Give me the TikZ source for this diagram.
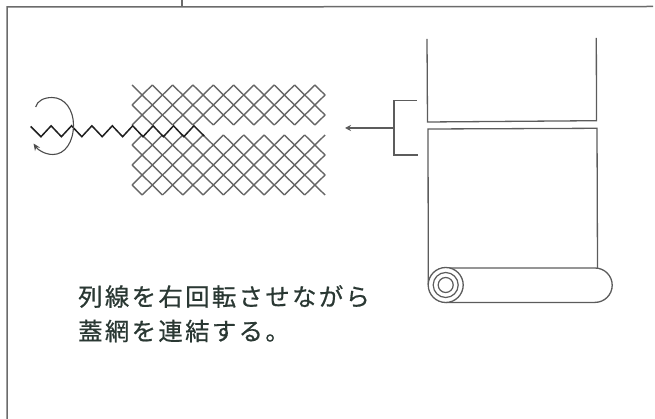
\documentclass[tikz,border=0pt]{standalone}
\usepackage{fontspec}
\usetikzlibrary{arrows.meta}
\newfontfamily\jpfont[LetterSpace=9.6,FakeBold=0.6]{Noto Sans CJK JP}
\definecolor{framegray}{gray}{0.42}
\definecolor{linegray}{gray}{0.36}
\definecolor{meshgray}{gray}{0.40}
\definecolor{textdark}{HTML}{2A3833}
\tikzset{
  frameline/.style={draw=framegray,line width=1.5pt},
  sheetline/.style={draw=linegray,line width=1.3pt},
  meshline/.style={draw=meshgray,line width=1.4pt},
  wireline/.style={draw=black!88,line width=1.5pt,line join=miter},
  caption/.style={anchor=west,inner sep=0pt,text=textdark,font=\jpfont\fontsize{24.4}{24.4}\selectfont},
}
\newcommand{\meshblock}[2]{%
  \foreach \i in {0,...,18}{%
    \foreach \j in {#1,...,#2}{%
      \ifodd\numexpr\i+\j\relax\else
        \ifnum\j<#2\relax
          \draw[meshline] ({132+10.16*\i},{85+10*\j}) -- ({132+10.16*(\i+1)},{85+10*(\j+1)});
        \fi
        \ifnum\j>#1\relax
          \draw[meshline] ({132+10.16*\i},{85+10*\j}) -- ({132+10.16*(\i+1)},{85+10*(\j-1)});
        \fi
      \fi
    }%
  }%
}
\begin{document}
\begin{tikzpicture}[x=1pt,y=-1pt]
\useasboundingbox (0,0) rectangle (655,419);
% frame
\draw[frameline] (7,419) -- (7,7) -- (653,6.5);
\draw[frameline] (182,0) -- (182,7);
% mesh
\meshblock{0}{4}
\meshblock{5}{11}
% wire
\draw[wireline] (30.7,126.5)
  \foreach \k in {0,...,7}{ -- ({41+20.4*\k},136.7) -- ({51.1+20.4*\k},125.8) }
  -- (204.2,136);
% rotation arrow
\draw[draw=black!70,line width=1.1pt,-{Stealth[length=7pt,width=6pt]}]
  (35.7,107) .. controls (37,101) and (44,97.5) .. (52,97.5)
  .. controls (65,97.5) and (73.5,110) .. (73.5,125)
  .. controls (73.5,142) and (65,154.5) .. (53,154.5)
  .. controls (45,154.5) and (38,150) .. (33.5,143.5);
% upper sheet
\draw[sheetline] (427,39) -- (427.5,122) -- (596.5,120.7) -- (596.3,38);
% lower sheet and roller
\draw[sheetline] (428.3,285) -- (428,129) -- (597,128.3) -- (597.5,268);
\draw[sheetline] (445.7,268) -- (595,268) arc[start angle=90,end angle=-90,radius=17.2pt] -- (445.7,302.4);
\node[circle,draw=linegray,line width=1.3pt,minimum size=35pt,inner sep=0pt,fill=white] (rollA) at (445.7,285) {};
\node[circle,draw=linegray,line width=1.2pt,minimum size=25pt,inner sep=0pt] (rollB) at (445.7,285) {};
\node[circle,draw=linegray,line width=1.2pt,minimum size=15pt,inner sep=0pt] (rollC) at (445.7,285) {};
% bracket and arrow
\coordinate (brA) at (416.7,100.3);
\coordinate (brB) at (394,100.3);
\coordinate (brC) at (394,155);
\coordinate (brD) at (417.5,155);
\coordinate (brM) at (394,128);
\coordinate (arrowEnd) at (345,128);
\draw[sheetline] (brA) -- (brB) -- (brC) -- (brD);
\draw[sheetline,-{Stealth[length=6pt,width=6pt]}] (brM) -- (arrowEnd);
% caption
\node[caption] (lineA) at (78,296.5) {列線を右回転させながら};
\node[caption] (lineB) at (78,331) {蓋網を連結する。};
\end{tikzpicture}
\end{document}
